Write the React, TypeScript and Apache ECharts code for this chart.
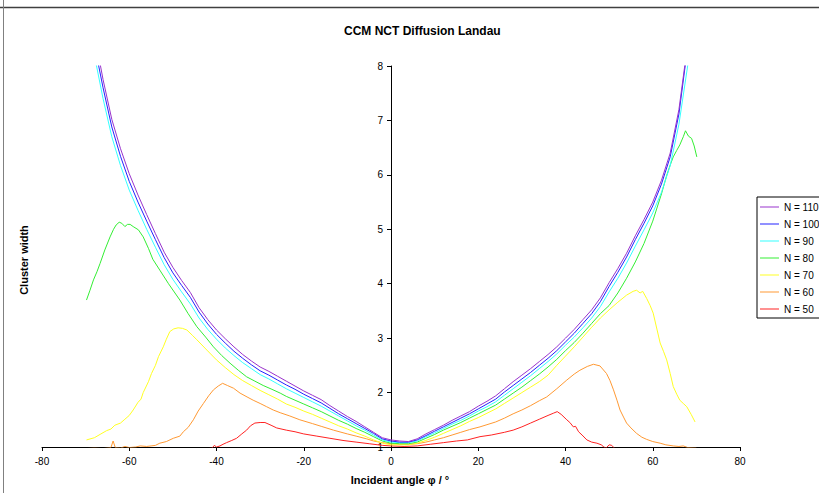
import React, { useEffect, useRef } from "react";
import * as echarts from "echarts";

const titleText = "CCM NCT Diffusion Landau";
const xAxisTitle = "Incident angle φ / °";
const yAxisTitle = "Cluster width";
const seriesNames = ["N = 110", "N = 100", "N = 90", "N = 80", "N = 70", "N = 60", "N = 50"];
const seriesColors = ["#9933CC", "#2222FF", "#33FFFF", "#33EE33", "#FFFF22", "#FF9933", "#FF2222"];

const uAngles = [
  -70, -68, -66, -64, -62, -60, -58, -56, -54, -52, -50, -48, -46, -44, -42, -40, -38, -36, -34, -32,
  -30, -28, -26, -24, -22, -20, -18, -16, -14, -12, -10, -8, -6, -4, -2, 0, 2, 4, 6, 8, 10, 12, 14, 16,
  18, 20, 22, 24, 26, 28, 30, 32, 34, 36, 38, 40, 42, 44, 46, 48, 50, 52, 54, 56, 58, 60, 62, 64, 66,
  68, 70,
];

const n110 = [
  9.6, 8.6, 7.75, 7.02, 6.48, 6.02, 5.63, 5.27, 4.92, 4.58, 4.3, 4.06, 3.84, 3.56, 3.34, 3.15, 2.99,
  2.84, 2.7, 2.58, 2.47, 2.39, 2.3, 2.21, 2.12, 2.03, 1.95, 1.87, 1.76, 1.66, 1.56, 1.47, 1.37, 1.27,
  1.17, 1.13, 1.11, 1.1, 1.15, 1.24, 1.32, 1.4, 1.49, 1.57, 1.65, 1.75, 1.84, 1.94, 2.07, 2.2, 2.32,
  2.44, 2.57, 2.7, 2.84, 3.0, 3.16, 3.34, 3.52, 3.74, 4.02, 4.28, 4.56, 4.88, 5.18, 5.5, 5.9, 6.4, 7.2,
  8.4, 9.8,
];

const n100 = [
  9.3, 8.4, 7.6, 6.88, 6.34, 5.88, 5.5, 5.15, 4.81, 4.48, 4.2, 3.97, 3.75, 3.48, 3.26, 3.07, 2.91,
  2.76, 2.63, 2.51, 2.4, 2.32, 2.23, 2.14, 2.06, 1.97, 1.89, 1.81, 1.71, 1.61, 1.52, 1.43, 1.34, 1.25,
  1.15, 1.11, 1.09, 1.09, 1.13, 1.21, 1.29, 1.37, 1.45, 1.53, 1.61, 1.7, 1.79, 1.88, 2.01, 2.13, 2.25,
  2.37, 2.5, 2.63, 2.77, 2.93, 3.09, 3.27, 3.45, 3.67, 3.95, 4.21, 4.49, 4.81, 5.11, 5.43, 5.83, 6.33,
  7.12, 8.35, 9.7,
];

const n90 = [
  9.0, 8.2, 7.4, 6.7, 6.17, 5.72, 5.35, 5.0, 4.67, 4.35, 4.08, 3.85, 3.63, 3.37, 3.16, 2.98, 2.82,
  2.68, 2.55, 2.44, 2.33, 2.25, 2.16, 2.07, 1.99, 1.91, 1.83, 1.75, 1.66, 1.57, 1.48, 1.39, 1.31, 1.22,
  1.13, 1.09, 1.08, 1.08, 1.11, 1.19, 1.26, 1.34, 1.42, 1.49, 1.57, 1.66, 1.74, 1.83, 1.95, 2.07, 2.19,
  2.31, 2.44, 2.57, 2.71, 2.87, 3.02, 3.19, 3.37, 3.58, 3.85, 4.1, 4.38, 4.69, 4.99, 5.3, 5.68, 6.17,
  6.93, 8.0, 9.4,
];

const n80: [number, number][] = [
  [-69.8, 3.7], [-69, 3.88], [-68.2, 4.07], [-67.4, 4.22], [-66.7, 4.37], [-65.6, 4.62], [-64.4, 4.86],
  [-63.6, 5.0], [-63.0, 5.08], [-62.3, 5.13], [-61.7, 5.11], [-61.0, 5.05], [-60.4, 5.09], [-59.8, 5.09],
  [-59.1, 5.05], [-57.9, 4.99], [-56.8, 4.86], [-55.6, 4.65], [-54.6, 4.45], [-53, 4.25], [-51, 4.0],
  [-48.4, 3.7], [-46.5, 3.45], [-44.5, 3.21], [-42.5, 3.02], [-40.7, 2.84], [-38.8, 2.68], [-36.9, 2.54],
  [-35, 2.41], [-33.1, 2.29], [-31.2, 2.21], [-29.3, 2.13], [-27.3, 2.06], [-25.4, 1.99], [-24, 1.93],
  [-22, 1.86], [-20, 1.79], [-18, 1.72], [-16, 1.65], [-14, 1.57], [-12, 1.49], [-10, 1.42], [-8, 1.34],
  [-6, 1.27], [-4, 1.19], [-2, 1.11], [0, 1.07], [2, 1.06], [4, 1.06], [6, 1.09], [8, 1.16], [10, 1.23],
  [12, 1.31], [14, 1.38], [16, 1.45], [18, 1.53], [20, 1.61], [22, 1.69], [24, 1.77], [26, 1.88],
  [28, 1.99], [30, 2.1], [32, 2.22], [34, 2.34], [36, 2.47], [38, 2.61], [40, 2.77], [42, 2.92],
  [44, 3.09], [46, 3.27], [48, 3.45], [50, 3.6], [52, 3.83], [54, 4.1], [56, 4.4], [58, 4.74],
  [60, 5.15], [62, 5.65], [63.2, 5.99], [64, 6.18], [64.7, 6.33], [65.5, 6.45], [66.2, 6.55], [67.0, 6.7],
  [67.5, 6.81], [68.2, 6.71], [68.9, 6.67], [69.5, 6.53], [70.1, 6.33],
];

const n70: [number, number][] = [
  [-69.8, 1.13], [-68, 1.17], [-66.5, 1.24], [-65.2, 1.3], [-64.2, 1.33], [-63.3, 1.4], [-62, 1.44],
  [-61, 1.51], [-60, 1.58], [-59.1, 1.68], [-58, 1.82], [-57.3, 1.88], [-56.8, 2.0], [-55.6, 2.2],
  [-54.9, 2.35], [-54, 2.5], [-53.3, 2.66], [-52.2, 2.84], [-51.5, 2.98], [-50.7, 3.12], [-49.8, 3.17],
  [-48.8, 3.19], [-47.8, 3.18], [-46.8, 3.15], [-45.5, 3.05], [-44.5, 2.97], [-42.2, 2.78], [-40, 2.6],
  [-38, 2.46], [-36, 2.33], [-34, 2.22], [-32, 2.13], [-30, 2.04], [-28, 1.96], [-26, 1.88], [-24, 1.79],
  [-22, 1.73], [-20, 1.66], [-18, 1.6], [-16, 1.53], [-14, 1.46], [-12, 1.39], [-10, 1.33], [-8, 1.26],
  [-6, 1.2], [-4, 1.13], [-2, 1.07], [0, 1.04], [2, 1.04], [4, 1.04], [6, 1.07], [8, 1.12], [10, 1.18],
  [12, 1.25], [14, 1.32], [16, 1.39], [18, 1.47], [20, 1.54], [22, 1.62], [24, 1.7], [26, 1.8], [28, 1.9],
  [30, 2.0], [32, 2.1], [34, 2.2], [36, 2.32], [38, 2.5], [40, 2.67], [42, 2.84], [44, 3.02], [46, 3.2],
  [48, 3.37], [50, 3.52], [52, 3.66], [54, 3.79], [55.5, 3.86], [56.3, 3.88], [57.1, 3.83], [57.7, 3.86],
  [58.6, 3.73], [59.4, 3.6], [60.1, 3.46], [61.0, 3.15], [61.7, 2.91], [62.5, 2.75], [63.2, 2.6],
  [64.0, 2.35], [64.7, 2.11], [65.5, 1.97], [66.2, 1.86], [67.0, 1.8], [67.8, 1.74], [68.8, 1.6],
  [69.7, 1.46],
];

const n60: [number, number][] = [
  [-70, 0.97], [-68, 0.98], [-66, 0.97], [-64.2, 0.99], [-63.7, 1.11], [-63.2, 0.99], [-62, 0.98],
  [-61, 1.01], [-60, 0.99], [-58.5, 1.0], [-57.5, 1.02], [-56, 1.01], [-55, 1.02], [-54, 1.03],
  [-53, 1.07], [-51.5, 1.1], [-49.9, 1.16], [-48.4, 1.2], [-47.6, 1.28], [-46.5, 1.36], [-45.3, 1.5],
  [-44.2, 1.66], [-43.0, 1.8], [-41.8, 1.94], [-40.7, 2.05], [-39.6, 2.12], [-38.6, 2.17], [-37.5, 2.13],
  [-36.1, 2.08], [-34.6, 1.99], [-33, 1.92], [-31.6, 1.86], [-30, 1.8], [-28.5, 1.74], [-27, 1.68],
  [-25.4, 1.63], [-23.2, 1.57], [-20.9, 1.5], [-18, 1.43], [-16, 1.38], [-13.2, 1.31], [-10, 1.24],
  [-8, 1.2], [-5.6, 1.15], [-4, 1.11], [-2, 1.08], [0, 1.06], [2, 1.05], [4, 1.05], [6, 1.06], [8, 1.09],
  [10, 1.13], [12, 1.17], [14, 1.22], [16, 1.27], [18, 1.32], [20.4, 1.37], [22, 1.41], [24, 1.46],
  [26, 1.53], [28, 1.61], [30, 1.68], [32, 1.76], [34, 1.85], [35.7, 1.92], [38, 2.07], [40.3, 2.23],
  [42, 2.34], [43.3, 2.41], [45, 2.48], [46.4, 2.52], [47.9, 2.49], [49.4, 2.35], [50.2, 2.22],
  [51.0, 2.05], [51.8, 1.86], [52.5, 1.68], [53.3, 1.55], [54.0, 1.44], [55, 1.35], [56.3, 1.25],
  [57.5, 1.18], [58.6, 1.14], [60, 1.1], [61.7, 1.07], [63, 1.04], [64.7, 1.02], [66, 1.01], [67, 1.02],
  [68, 0.99], [70, 0.98],
];

const n50: [number, number][] = [
  [-42, 0.97], [-41, 0.98], [-40.5, 1.03], [-40, 1.0], [-39.2, 1.02], [-38.5, 1.05], [-37.7, 1.08],
  [-36.5, 1.12], [-35.4, 1.16], [-34.2, 1.24], [-33.1, 1.31], [-32.2, 1.39], [-31.2, 1.44], [-30, 1.45],
  [-28.9, 1.45], [-27.5, 1.4], [-26.2, 1.35], [-24, 1.31], [-22, 1.28], [-20, 1.24], [-17, 1.2],
  [-14, 1.16], [-11, 1.12], [-8, 1.09], [-5, 1.06], [-2, 1.03], [0, 1.02], [3, 1.01], [6, 1.02],
  [9, 1.05], [12, 1.08], [15, 1.11], [17.5, 1.13], [20.4, 1.19], [23, 1.22], [26, 1.27], [28, 1.31],
  [30, 1.37], [32, 1.44], [34, 1.51], [36, 1.58], [37.2, 1.62], [38.1, 1.65], [39, 1.6], [40.3, 1.5],
  [41, 1.45], [41.8, 1.37], [42.3, 1.38], [43, 1.28], [43.8, 1.22], [44.9, 1.13], [46, 1.09],
  [47.2, 1.07], [48.2, 1.04], [48.8, 1.0], [49.3, 0.98], [50, 1.04], [50.6, 1.03], [51.2, 0.98],
];

const FONT = "'Liberation Sans', Arial, sans-serif";

export default function App() {
  const ref = useRef<HTMLDivElement>(null);
  useEffect(() => {
    if (!ref.current) return;
    const chart = echarts.init(ref.current, undefined, { renderer: "svg" });
    const uSeries = [n110, n100, n90].map((vals) => uAngles.map((a, i) => [a, vals[i]]));
    const allData = [uSeries[0], uSeries[1], uSeries[2], n80, n70, n60, n50];
    chart.setOption({
      animation: false,
      backgroundColor: "#ffffff",
      textStyle: { fontFamily: FONT },
      title: {
        text: titleText,
        left: 339,
        top: 20,
        textStyle: { fontSize: 12, fontWeight: "bold", color: "#000", fontFamily: FONT },
      },
      legend: {
        orient: "vertical",
        left: 757,
        top: 197,
        icon: "rect",
        itemWidth: 19,
        itemHeight: 1,
        itemGap: 5,
        padding: [4, 6, 3, 3],
        borderColor: "#000",
        borderWidth: 1,
        selectedMode: false,
        data: seriesNames,
        textStyle: { fontSize: 10, color: "#000", fontFamily: FONT, lineHeight: 12 },
      },
      grid: { left: 42, right: 79, top: 66, bottom: 46, containLabel: false },
      xAxis: {
        type: "value",
        min: -80,
        max: 80,
        interval: 20,
        name: xAxisTitle,
        nameLocation: "middle",
        nameGap: 27,
        nameTextStyle: { fontSize: 11, fontWeight: "bold", color: "#000", padding: [0, 0, 0, 18] },
        axisLine: { onZero: false, lineStyle: { color: "#000", width: 1 } },
        axisTick: { show: true, inside: false, length: 4, lineStyle: { color: "#000" } },
        axisLabel: { fontSize: 10, color: "#000", margin: 9 },
        splitLine: { show: false },
      },
      yAxis: {
        type: "value",
        position: "left",
        offset: -349,
        min: 1,
        max: 8,
        interval: 1,
        axisLine: { show: true, onZero: false, lineStyle: { color: "#000", width: 1 } },
        axisTick: { show: true, inside: false, length: 4, lineStyle: { color: "#000" } },
        axisLabel: { fontSize: 10, color: "#000", margin: 8 },
        splitLine: { show: false },
      },
      graphic: [
        { type: "line", shape: { x1: 0, y1: 7.5, x2: 819, y2: 7.5 }, style: { stroke: "#404040", lineWidth: 1.5 } },
        { type: "line", shape: { x1: 3.5, y1: 0, x2: 3.5, y2: 493 }, style: { stroke: "#808080", lineWidth: 1 } },
        {
          type: "text",
          x: 24,
          y: 260,
          rotation: Math.PI / 2,
          style: {
            text: yAxisTitle,
            fontSize: 11,
            fontWeight: "bold",
            fill: "#000",
            fontFamily: FONT,
            textAlign: "center",
            textVerticalAlign: "middle",
          },
        },
      ],
      series: seriesNames.map((name, i) => ({
        name,
        type: "line",
        data: allData[i],
        symbol: "none",
        showSymbol: false,
        clip: true,
        lineStyle: { color: seriesColors[i], width: 1 },
        itemStyle: { color: seriesColors[i] },
        z: 10 - i,
      })),
    });
    return () => chart.dispose();
  }, []);
  return (
    <div
      ref={ref}
      style={{ position: "fixed", left: 0, top: 0, width: 819, height: 493, background: "#fff" }}
    />
  );
}
